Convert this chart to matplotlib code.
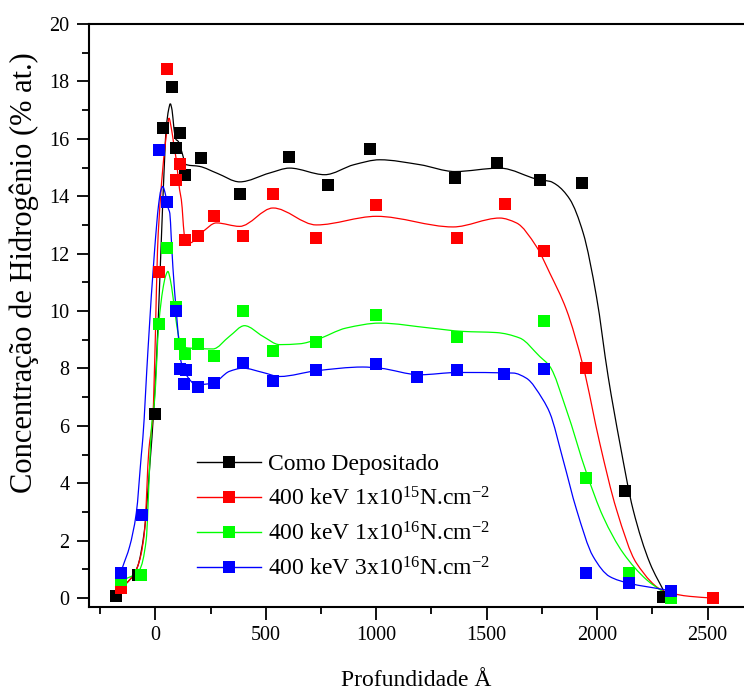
import matplotlib
matplotlib.use("Agg")
import numpy as np
import matplotlib.pyplot as plt
from matplotlib.lines import Line2D
from matplotlib.path import Path
from matplotlib.patches import PathPatch
from matplotlib.ticker import MultipleLocator

plt.rcParams['font.family'] = ['Liberation Serif', 'DejaVu Serif']
plt.rcParams['mathtext.fontset'] = 'custom'
plt.rcParams['mathtext.rm'] = 'Liberation Serif'
plt.rcParams['mathtext.it'] = 'Liberation Serif:italic'

# ---------------- data ----------------
labels = ["Como Depositado",
          "400 keV 1x10$^{15}$N.cm$^{-2}$",
          "400 keV 1x10$^{16}$N.cm$^{-2}$",
          "400 keV 3x10$^{16}$N.cm$^{-2}$"]
colors = ["#000000", "#ff0000", "#00ff00", "#0000ff"]

# measured points
black_x = [-177, -80, -3, 34, 74, 92, 110, 133, 205, 382, 604, 782, 974, 1356, 1549, 1740, 1932, 2126, 2300]
black_y = [0.06, 0.79, 6.41, 16.38, 17.8, 15.68, 16.2, 14.75, 15.32, 14.08, 15.37, 14.38, 15.66, 14.65, 15.16, 14.55, 14.45, 3.74, 0.05]

red_x = [-154, 16, 54, 95, 113, 133, 193, 265, 397, 533, 726, 998, 1368, 1581, 1760, 1952, 2525]
red_y = [0.35, 11.35, 18.44, 14.57, 15.13, 12.46, 12.63, 13.3, 12.63, 14.09, 12.56, 13.68, 12.54, 13.73, 12.08, 8.01, 0.02]

green_x = [-157, -63, 16, 53, 95, 113, 133, 193, 265, 397, 533, 727, 998, 1368, 1760, 1952, 2143, 2334]
green_y = [0.62, 0.81, 9.56, 12.2, 10.14, 8.85, 8.51, 8.86, 8.44, 9.99, 8.62, 8.92, 9.87, 9.09, 9.67, 4.18, 0.87, 0.0]

blue_x = [-157, -59, 15, 54, 95, 110, 137, 130, 193, 265, 397, 533, 726, 998, 1187, 1368, 1579, 1760, 1952, 2143, 2334]
blue_y = [0.87, 2.9, 15.6, 13.8, 9.99, 7.99, 7.93, 7.46, 7.37, 7.49, 8.19, 7.58, 7.93, 8.16, 7.69, 7.93, 7.8, 7.99, 0.89, 0.52, 0.23]

# fitted curves
black_cx = [-170, -120, -80, -50, -25, -5, 15, 35, 50, 60, 68, 76, 84, 92, 105, 118, 140, 200, 280, 382,
            518, 608, 767, 900, 1016, 1197, 1356, 1559, 1741, 1786, 1816, 1876, 1937, 1997, 2050, 2103,
            2163, 2239, 2307]
black_cy = [0.3, 0.6, 1.1, 2.3, 4.6, 6.8, 10.0, 14.0, 16.4, 17.0, 17.22, 17.0, 16.4, 16.0, 15.9, 15.6, 15.1,
            15.04, 14.8, 14.5, 14.81, 14.98, 14.75, 15.1, 15.27, 15.1, 14.86, 14.98, 14.57, 14.52, 14.4,
            13.9, 12.72, 10.51, 7.72, 5.4, 3.08, 1.22, 0.17]

red_cx = [-154, -120, -86, -65, -48, -29, -11, 0, 10, 24, 42, 55, 62, 72, 84, 95, 110, 118, 133, 155, 216,
          276, 382, 533, 729, 1001, 1348, 1559, 1635, 1725, 1786, 1861, 1937, 2012, 2088, 2178, 2307,
          2420, 2525]
red_cy = [0.35, 0.6, 0.99, 1.5, 2.38, 5.17, 6.33, 9.0, 12.1, 14.0, 15.6, 16.4, 16.72, 16.4, 15.8, 15.27,
          14.23, 13.88, 12.6, 12.37, 12.77, 13.07, 12.95, 13.59, 13.0, 13.3, 12.93, 13.24, 13.07, 12.25,
          11.32, 10.05, 8.07, 5.4, 3.08, 1.22, 0.23, 0.06, 0.0]

green_cx = [-157, -110, -71, -41, -26, -18, -3, 16, 34, 46, 57, 68, 80, 98, 118, 155, 261, 336, 404, 487,
            563, 654, 729, 865, 1016, 1242, 1393, 1544, 1650, 1740, 1786, 1861, 1952, 2027, 2118, 2224, 2307]
green_cy = [0.62, 0.75, 0.99, 2.03, 4.5, 5.86, 6.91, 9.56, 10.74, 11.2, 11.38, 11.1, 10.5, 9.46, 8.77, 8.71,
            8.68, 9.12, 9.49, 9.12, 8.83, 8.86, 9.0, 9.41, 9.58, 9.41, 9.29, 9.25, 9.06, 8.42, 8.07,
            6.56, 4.36, 2.84, 1.57, 0.64, 0.17]

blue_cx = [-157, -147, -116, -86, -63, -56, -33, -3, 15, 25, 34, 45, 58, 66, 72, 80, 95, 118, 140, 186,
           261, 336, 397, 487, 563, 729, 940, 1016, 1197, 1368, 1620, 1680, 1755, 1786, 1846, 1907, 1982,
           2057, 2143, 2307]
blue_cy = [0.87, 1.1, 1.8, 2.96, 5.0, 5.6, 8.65, 12.13, 13.7, 14.2, 14.34, 14.1, 13.6, 13.4, 12.6, 11.5,
           10.0, 8.19, 7.78, 7.43, 7.49, 7.9, 8.01, 7.86, 7.72, 7.92, 8.05, 8.01, 7.78, 7.86, 7.84, 7.66,
           6.91, 6.45, 4.82, 3.08, 1.45, 0.75, 0.52, 0.29]

xticks = [0, 500, 1000, 1500, 2000, 2500]
yticks = [0, 2, 4, 6, 8, 10, 12, 14, 16, 18, 20]

points = [(black_x, black_y), (red_x, red_y), (green_x, green_y), (blue_x, blue_y)]
curves = [(black_cx, black_cy), (red_cx, red_cy), (green_cx, green_cy), (blue_cx, blue_cy)]


def smooth_path(xs, ys):
    """Smooth (shape-preserving cubic Bezier) path through the read curve points."""
    x = np.asarray(xs, float)
    y = np.asarray(ys, float)
    h = np.diff(x)
    d = np.diff(y) / h
    n = len(x)
    m = np.zeros(n)
    m[0], m[-1] = d[0], d[-1]
    for i in range(1, n - 1):
        if d[i - 1] * d[i] <= 0:
            m[i] = 0.0
        else:
            w1 = 2 * h[i] + h[i - 1]
            w2 = h[i] + 2 * h[i - 1]
            m[i] = (w1 + w2) / (w1 / d[i - 1] + w2 / d[i])
    verts = [(x[0], y[0])]
    codes = [Path.MOVETO]
    for i in range(n - 1):
        verts += [(x[i] + h[i] / 3, y[i] + m[i] * h[i] / 3),
                  (x[i + 1] - h[i] / 3, y[i + 1] - m[i + 1] * h[i] / 3),
                  (x[i + 1], y[i + 1])]
        codes += [Path.CURVE4] * 3
    return Path(verts, codes)


# ---------------- figure ----------------
fig = plt.figure(figsize=(7.44, 6.91), dpi=100)
ax = fig.add_axes([89 / 744, 1 - 606.7 / 691, 1 - 89 / 744, (606.7 - 24) / 691])

ms = 8.6
for (cx, cy), c in zip(curves, colors):
    ax.add_patch(PathPatch(smooth_path(cx, cy), facecolor='none', edgecolor=c, lw=0.9, zorder=2))
for (px, py), c in zip(points, colors):
    ax.plot(px, py, ls='none', marker='s', ms=ms, mfc=c, mec=c, mew=0, zorder=3)

ax.set_xlim(-300, 2665)
ax.set_ylim(-0.3, 20)
ax.set_xticks(xticks)
ax.set_yticks(yticks)
ax.xaxis.set_minor_locator(MultipleLocator(250))
ax.yaxis.set_minor_locator(MultipleLocator(1))
ax.tick_params(which='major', direction='out', length=9, width=1.3, labelsize=14.5, pad=5)
ax.tick_params(which='minor', direction='out', length=5, width=1.3)
ax.tick_params(top=False, right=False, which='both')
for s in ['left', 'bottom', 'top']:
    ax.spines[s].set_linewidth(1.5)
ax.spines['right'].set_visible(False)

ax.set_xlabel("Profundidade Å", fontsize=17, labelpad=18)
ax.set_ylabel("Concentração de Hidrogênio (% at.)", fontsize=22)
ax.yaxis.set_label_coords(-0.076, 0.574)

handles = [Line2D([], [], color=c, lw=1.0, marker='s', ms=ms, mfc=c, mec=c, mew=0) for c in colors]
ax.legend(handles, labels, loc='upper left', bbox_to_anchor=(0.151, 0.2785), frameon=False,
          fontsize=17, handlelength=2.7, handletextpad=0.3, labelspacing=0.5, borderaxespad=0)

fig.savefig("out.png", dpi=100)
